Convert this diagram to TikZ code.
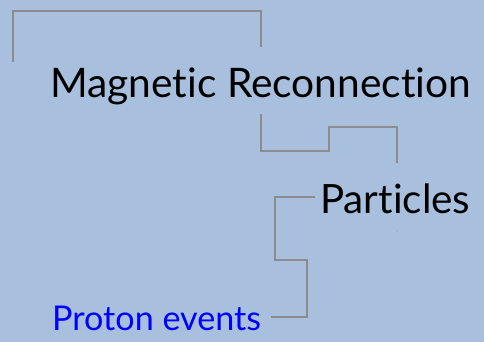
\documentclass[tikz,border=0pt]{standalone}
\usepackage{fontspec}
\setmainfont{Lato}[Ligatures=NoCommon]
\definecolor{bg}{HTML}{A8C0DE}
\definecolor{ln}{HTML}{8C8C8C}
\definecolor{pblue}{HTML}{0000FF}
\begin{document}
\begin{tikzpicture}[x=1pt,y=-1pt,
  conn/.style={draw=ln,line width=1.2pt},
  lbl/.style={inner sep=0pt,anchor=base west,font=\fontsize{40}{44}\selectfont}]
\fill[bg] (0,0) rectangle (484,342);
\useasboundingbox (0,0) rectangle (484,342);
\node[lbl] (mr) at (50,98) {\resizebox{421pt}{!}{Magnetic Reconnection}};
\node[lbl] (pa) at (320,213) {\resizebox{150pt}{!}{Particles}};
\node[lbl,text=pblue] (pe) at (52,330) {\resizebox{209pt}{!}{Proton events}};
\coordinate (a0) at (13,62);
\coordinate (a1) at (261,47);
\draw[conn] (a0) |- (261,11) -- (a1);
\coordinate (b0) at (261,114);
\coordinate (b1) at (397,163);
\draw[conn] (b0) -- (261,151) -- (329,151) -- (329,127) -- (397,127) -- (b1);
\coordinate (c0) at (315,197);
\coordinate (c1) at (271,317);
\draw[conn] (c0) -- (275,197) -- (275,260) -- (307,260) -- (307,317) -- (c1);
\fill[ln] (397,231) circle (0.7);
\end{tikzpicture}
\end{document}
